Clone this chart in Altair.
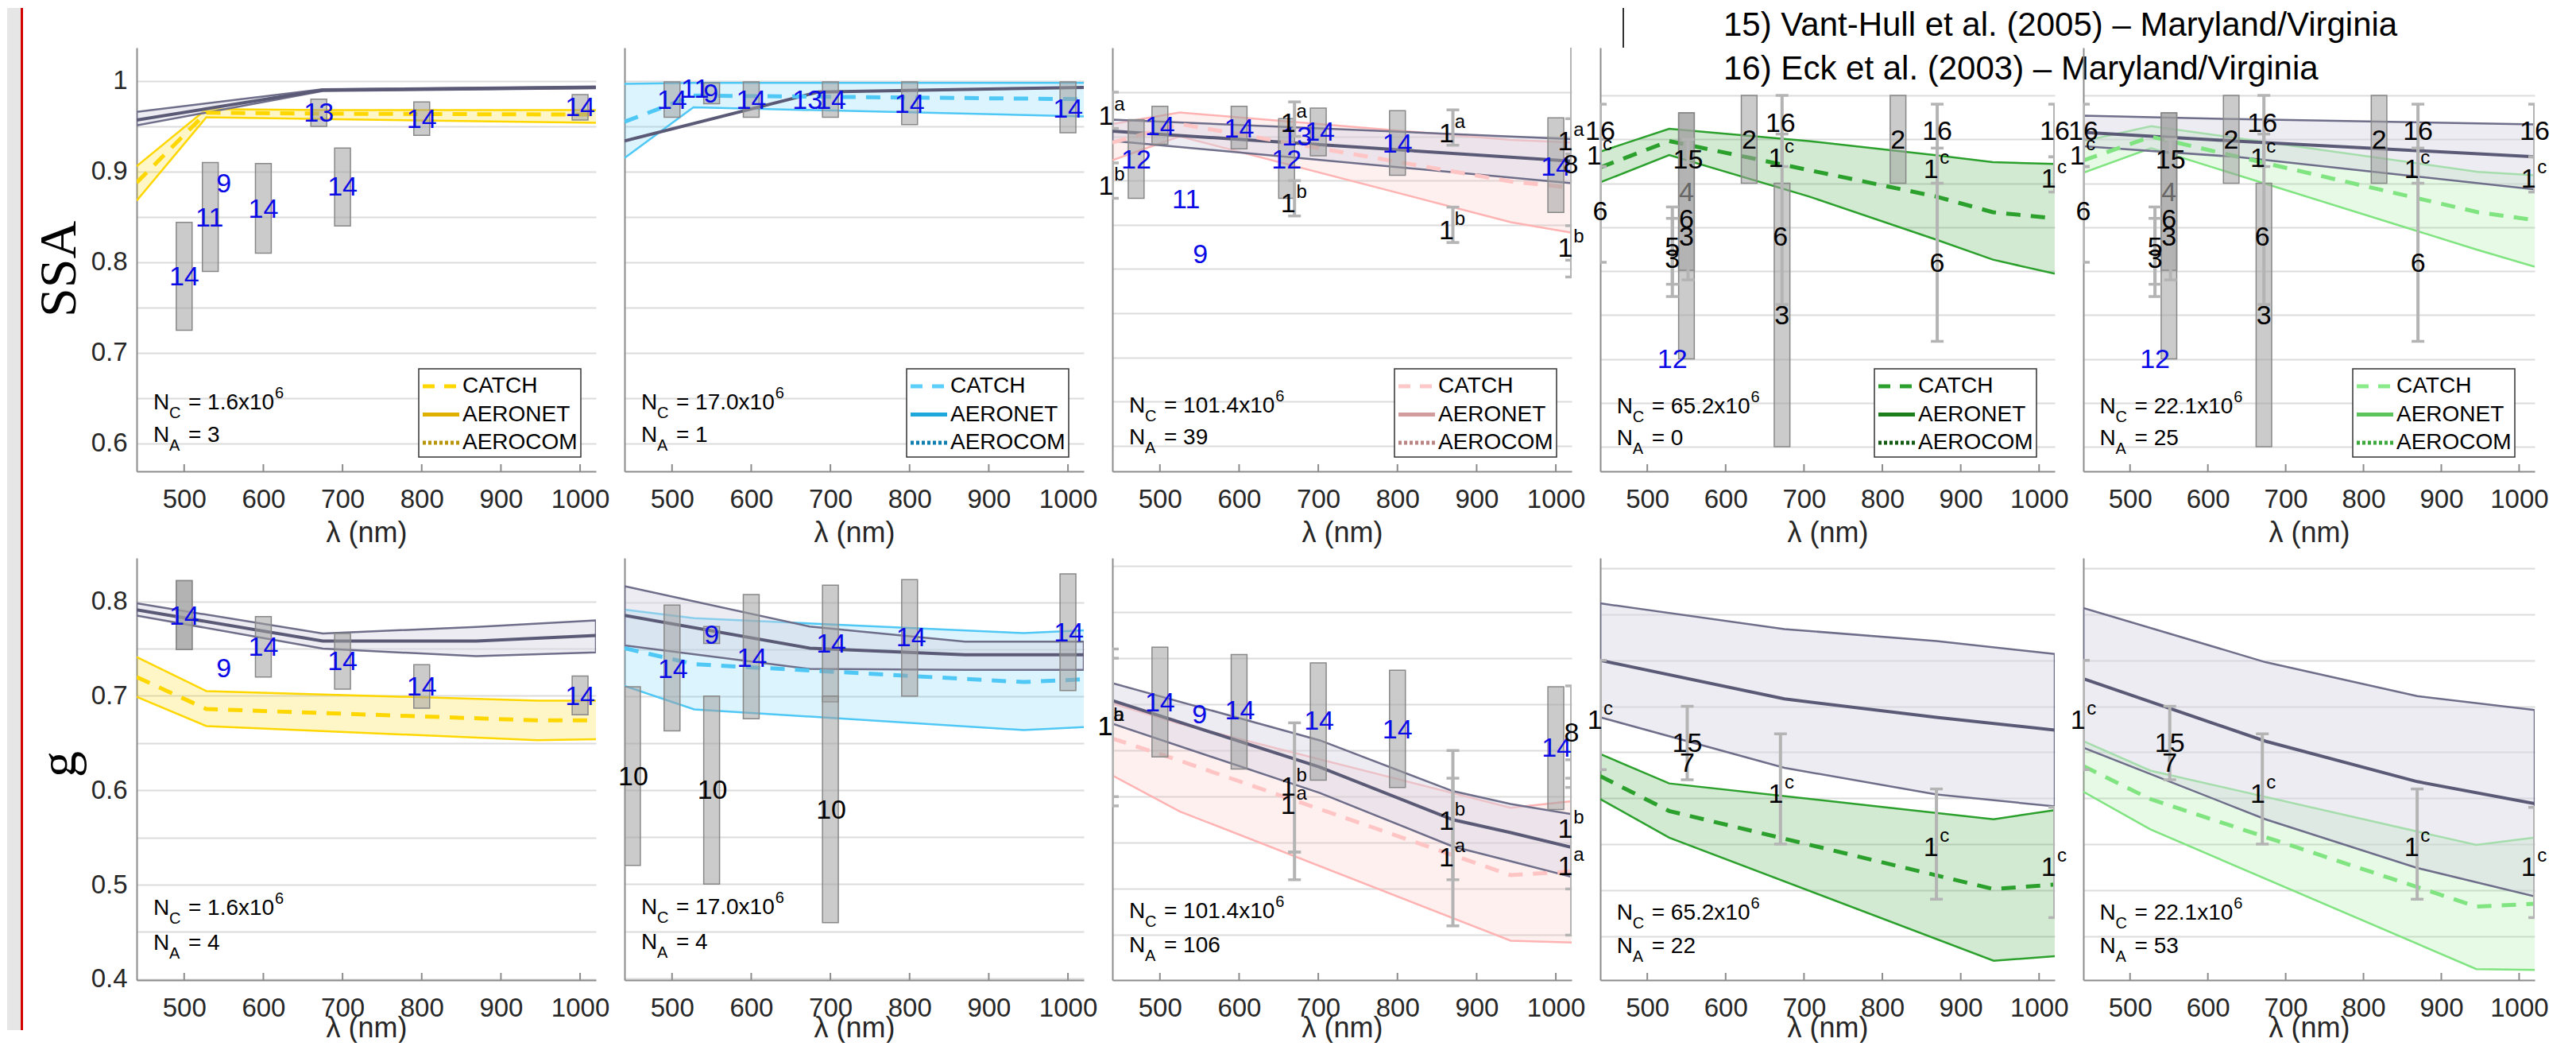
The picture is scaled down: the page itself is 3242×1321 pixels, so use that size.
import altair as alt
import pandas as pd

FONT = "Liberation Sans"
SERIF = "Liberation Serif"

# ---------------- layout / style ----------------
PANEL_W = [578, 578, 578, 572, 568]
ROW_H = [533, 531]
COL_GAP, ROW_GAP = 36, 109
X_DOMAIN = [440, 1020]
X_TICKS = [500, 600, 700, 800, 900, 1000]
Y_DOMAINS = [
    [[0.5693, 1.0368], [0.5693, 1.0368], [0.5712, 1.0503], [0.572, 1.0543], [0.572, 1.0543]],
    [[0.399, 0.846], [0.398, 0.847], [0.4013, 0.8586], [0.402, 0.8614], [0.402, 0.8614]],
]
GRID_VALUES = [
    [0.6, 0.65, 0.7, 0.75, 0.8, 0.85, 0.9, 0.95, 1.0],
    [0.4, 0.45, 0.5, 0.55, 0.6, 0.65, 0.7, 0.75, 0.8, 0.85],
]
Y_TITLES = ["SSA", "g"]
Y_TITLE_Y = [278, 259]
X_TITLE_Y = [77, 60]

AXIS_C = "#8c8c8c"
GRID_C = "#dcdcdc"
LABEL_C = "#262626"
SLATE_EDGE = "#6e6e8a"
SLATE_MID = "#5a5a76"
SLATE_FILL = "#d4d4e2"
BOX_FILL = "#a0a0a0"
BOX_EDGE = "#888888"
BAR_C = "#b4b4b4"
TXT_COLORS = {"b": "#0a0ae6", "k": "#000000", "g": "#666666"}

MAIN_COLORS = ["#FFD700", "#4FC8F5", "#FFB3B3", "#2CA02C", "#80E480"]
DASH_COLORS = ["#FFD700", "#4FC8F5", "#FFC4C4", "#2CA02C", "#80E480"]
FILL_OPACITY = [0.22, 0.2, 0.2, 0.22, 0.2]
MEAN_DASH = [18, 13]

LEGEND_NAMES = ["CATCH", "AERONET", "AEROCOM"]
LEGEND_DASH = [[15, 12], None, [4, 3]]
LEGEND_COLORS = [
    ["#FFD700", "#E0B000", "#B8960C"],
    ["#5BCEFA", "#1EA7DA", "#117FAF"],
    ["#FFC8C8", "#D29C9C", "#B98585"],
    ["#2CA02C", "#1C7F1C", "#145C14"],
    ["#88EA88", "#5CC45C", "#3DA93D"],
]
LEG_RIGHT = [19, 19, 19, 23, 25]

NC_TEXT = ["1.6", "17.0", "101.4", "65.2", "22.1"]
NA_TEXT = [["3", "1", "39", "0", "25"], ["4", "4", "106", "22", "53"]]
NC_Y = [0.645, 0.475]
NA_Y = [0.609, 0.438]
N_X = 461

TOP_NOTES = ["15) Vant-Hull et al. (2005) \u2013 Maryland/Virginia",
             "16) Eck et al. (2003) \u2013 Maryland/Virginia"]

# ---------------- SSA row data ----------------
SSA1_SLATE_X = [440, 675, 1020]
SSA1_SLATE_UP = [0.966, 0.991, 0.994]
SSA1_SLATE_MID = [0.957, 0.990, 0.993]
SSA1_SLATE_LO = [0.951, 0.989, 0.992]
SSA1_BAND_X = [440, 528, 675, 1020]
SSA1_BAND_UP = [0.906, 0.969, 0.968, 0.968]
SSA1_BAND_MEAN = [0.888, 0.965, 0.964, 0.963]
SSA1_BAND_LO = [0.868, 0.960, 0.958, 0.954]
SSA1_BOXES = [(500, 0.725, 0.844), (533, 0.790, 0.910), (600, 0.810, 0.909), (670, 0.950, 0.980),
              (700, 0.840, 0.926), (800, 0.940, 0.977), (1000, 0.957, 0.985)]
SSA1_BARS = []
SSA1_LABELS = [("14", "", 500, 0.783, "b"), ("11", "", 532, 0.848, "b"), ("9", "", 550, 0.886, "b"),
               ("14", "", 600, 0.858, "b"), ("13", "", 670, 0.964, "b"), ("14", "", 700, 0.882, "b"),
               ("14", "", 800, 0.957, "b"), ("14", "", 1000, 0.970, "b")]

SSA2_SLATE_X = [440, 685, 1020]
SSA2_SLATE_UP = [0.934, 0.988, 0.993]
SSA2_SLATE_MID = [0.934, 0.988, 0.993]
SSA2_SLATE_LO = [0.934, 0.988, 0.993]
SSA2_BAND_X = [440, 527, 1020]
SSA2_BAND_UP = [0.997, 0.998, 0.998]
SSA2_BAND_MEAN = [0.955, 0.984, 0.980]
SSA2_BAND_LO = [0.915, 0.971, 0.961]
SSA2_BOXES = [(500, 0.960, 0.999), (550, 0.975, 0.998), (600, 0.960, 0.999), (700, 0.960, 0.999),
              (800, 0.952, 0.999), (1000, 0.943, 0.999)]
SSA2_BARS = []
SSA2_LABELS = [("14", "", 500, 0.978, "b"), ("11", "", 529, 0.990, "b"), ("9", "", 549, 0.985, "b"),
               ("14", "", 600, 0.978, "b"), ("13", "", 671, 0.978, "b"), ("14", "", 701, 0.978, "b"),
               ("14", "", 800, 0.974, "b"), ("14", "", 1000, 0.968, "b")]

SSA3_SLATE_X = [440, 1020]
SSA3_SLATE_UP = [0.969, 0.947]
SSA3_SLATE_MID = [0.956, 0.922]
SSA3_SLATE_LO = [0.945, 0.897]
SSA3_BAND_X = [440, 525, 943, 1020]
SSA3_BAND_UP = [0.964, 0.977, 0.946, 0.943]
SSA3_BAND_MEAN = [0.943, 0.964, 0.899, 0.892]
SSA3_BAND_LO = [0.923, 0.950, 0.853, 0.841]
SSA3_BOXES = [(470, 0.880, 0.969), (500, 0.941, 0.984), (600, 0.936, 0.984), (660, 0.880, 0.970),
              (700, 0.928, 0.982), (800, 0.906, 0.979), (1000, 0.864, 0.971)]
SSA3_BARS = [(440, 0.959, 1.000), (440, 0.880, 0.920), (670, 0.950, 0.989), (670, 0.860, 0.900),
             (870, 0.940, 0.980), (870, 0.830, 0.870), (1020, 0.930, 0.970), (1020, 0.810, 0.849),
             (1020, 0.791, 1.080)]
SSA3_LABELS = [("12", "", 470, 0.923, "b"), ("14", "", 500, 0.960, "b"), ("11", "", 533, 0.878, "b"),
               ("9", "", 551, 0.816, "b"), ("14", "", 600, 0.958, "b"), ("12", "", 660, 0.923, "b"),
               ("13", "", 673, 0.949, "b"), ("14", "", 702, 0.954, "b"), ("14", "", 800, 0.941, "b"),
               ("14", "", 1000, 0.915, "b"), ("8", "", 1019, 0.917, "k"),
               ("1", "a", 432, 0.972, "k"), ("1", "b", 432, 0.893, "k"),
               ("1", "a", 662, 0.964, "k"), ("1", "b", 662, 0.873, "k"),
               ("1", "a", 862, 0.952, "k"), ("1", "b", 862, 0.843, "k"),
               ("1", "a", 1012, 0.943, "k"), ("1", "b", 1012, 0.823, "k")]

SSA4_BAND_X = [440, 528, 706, 868, 941, 1020]
SSA4_BAND_UP = [0.936, 0.962, 0.948, 0.932, 0.924, 0.922]
SSA4_BAND_MEAN = [0.918, 0.948, 0.915, 0.885, 0.867, 0.860]
SSA4_BAND_LO = [0.901, 0.932, 0.885, 0.836, 0.813, 0.797]

SSA5_SLATE_X = [440, 636, 1020]
SSA5_SLATE_UP = [0.977, 0.973, 0.967]
SSA5_SLATE_MID = [0.958, 0.948, 0.930]
SSA5_SLATE_LO = [0.942, 0.930, 0.893]
SSA5_BAND_X = [440, 527, 947, 1020]
SSA5_BAND_UP = [0.948, 0.965, 0.913, 0.909]
SSA5_BAND_MEAN = [0.926, 0.953, 0.867, 0.858]
SSA5_BAND_LO = [0.912, 0.940, 0.824, 0.805]

# Maryland/Virginia measurements (shared by the two right SSA panels)
MDVA_SSA_BOXES = [(550, 0.700, 0.980), (550, 0.801, 0.980), (630, 0.900, 1.000), (672, 0.600, 0.900),
                  (820, 0.900, 1.000)]
MDVA_SSA_BARS = [(440, 0.950, 0.990), (440, 0.919, 0.961), (440, 0.810, 0.919), (532, 0.771, 0.873),
                 (532, 0.785, 0.860), (552, 0.790, 0.950), (672, 0.762, 1.000), (672, 0.919, 0.956),
                 (870, 0.720, 0.990), (870, 0.900, 0.940), (1020, 0.890, 0.930), (1020, 0.930, 0.990)]
MDVA_SSA_LABELS = [("16", "", 440, 0.958, "k"), ("1", "c", 432, 0.930, "k"), ("6", "", 440, 0.867, "k"),
                   ("5", "", 532, 0.826, "k"), ("3", "", 532, 0.813, "k"), ("12", "", 532, 0.699, "b"),
                   ("15", "", 552, 0.926, "k"), ("4", "", 550, 0.889, "g"), ("6", "", 550, 0.858, "k"),
                   ("3", "", 550, 0.838, "k"), ("2", "", 630, 0.948, "k"), ("16", "", 670, 0.967, "k"),
                   ("1", "c", 664, 0.928, "k"), ("6", "", 670, 0.838, "k"), ("3", "", 672, 0.748, "k"),
                   ("2", "", 820, 0.948, "k"), ("16", "", 870, 0.958, "k"), ("1", "c", 862, 0.915, "k"),
                   ("6", "", 870, 0.808, "k"), ("16", "", 1020, 0.958, "k"), ("1", "c", 1012, 0.904, "k")]

# ---------------- g (asymmetry) row data ----------------
G1_SLATE_X = [440, 675, 869, 1020]
G1_SLATE_UP = [0.798, 0.766, 0.773, 0.780]
G1_SLATE_MID = [0.791, 0.758, 0.758, 0.764]
G1_SLATE_LO = [0.785, 0.750, 0.742, 0.746]
G1_BAND_X = [440, 528, 946, 1020]
G1_BAND_UP = [0.741, 0.705, 0.695, 0.695]
G1_BAND_MEAN = [0.720, 0.686, 0.674, 0.674]
G1_BAND_LO = [0.699, 0.668, 0.653, 0.654]
G1_BOXES = [(500, 0.749, 0.822), (500, 0.749, 0.822), (600, 0.720, 0.784), (700, 0.707, 0.766),
            (800, 0.687, 0.733), (1000, 0.680, 0.721)]
G1_BARS = []
G1_LABELS = [("14", "", 500, 0.784, "b"), ("9", "", 550, 0.728, "b"), ("14", "", 600, 0.751, "b"),
             ("14", "", 700, 0.736, "b"), ("14", "", 800, 0.709, "b"), ("14", "", 1000, 0.699, "b")]

G2_SLATE_X = [440, 674, 870, 1020]
G2_SLATE_UP = [0.817, 0.774, 0.758, 0.758]
G2_SLATE_MID = [0.786, 0.751, 0.744, 0.744]
G2_SLATE_LO = [0.754, 0.729, 0.728, 0.728]
G2_BAND_X = [440, 528, 944, 1020]
G2_BAND_UP = [0.792, 0.783, 0.767, 0.770]
G2_BAND_MEAN = [0.751, 0.734, 0.715, 0.718]
G2_BAND_LO = [0.711, 0.686, 0.664, 0.667]
G2_BOXES = [(450, 0.520, 0.710), (500, 0.663, 0.797), (550, 0.756, 0.774), (550, 0.500, 0.700),
            (600, 0.676, 0.808), (700, 0.694, 0.818), (700, 0.459, 0.700), (800, 0.700, 0.824),
            (1000, 0.706, 0.830)]
G2_BARS = []
G2_LABELS = [("10", "", 451, 0.614, "k"), ("10", "", 551, 0.599, "k"), ("10", "", 701, 0.578, "k"),
             ("14", "", 501, 0.728, "b"), ("9", "", 550, 0.764, "b"), ("14", "", 601, 0.740, "b"),
             ("14", "", 701, 0.755, "b"), ("14", "", 802, 0.762, "b"), ("14", "", 1001, 0.767, "b")]

G3_SLATE_X = [440, 702, 870, 943, 1020]
G3_SLATE_UP = [0.723, 0.661, 0.606, 0.592, 0.581]
G3_SLATE_MID = [0.704, 0.632, 0.575, 0.561, 0.545]
G3_SLATE_LO = [0.679, 0.604, 0.546, 0.530, 0.513]
G3_BAND_X = [440, 525, 943, 1020]
G3_BAND_UP = [0.701, 0.679, 0.588, 0.595]
G3_BAND_MEAN = [0.663, 0.639, 0.515, 0.519]
G3_BAND_LO = [0.623, 0.584, 0.444, 0.442]
G3_BOXES = [(500, 0.643, 0.762), (600, 0.630, 0.754), (700, 0.618, 0.745), (800, 0.610, 0.737),
            (1000, 0.586, 0.719)]
G3_BARS = [(440, 0.600, 0.760), (440, 0.590, 0.750), (670, 0.510, 0.680), (670, 0.540, 0.540),
           (870, 0.460, 0.650), (870, 0.510, 0.620), (1020, 0.450, 0.720), (1020, 0.500, 0.640),
           (1020, 0.610, 0.620)]
G3_LABELS = [("14", "", 500, 0.701, "b"), ("9", "", 550, 0.688, "b"), ("14", "", 601, 0.692, "b"),
             ("14", "", 701, 0.681, "b"), ("14", "", 800, 0.672, "b"), ("14", "", 1001, 0.652, "b"),
             ("8", "", 1020, 0.668, "k"), ("1", "b", 431, 0.675, "k"), ("1", "a", 431, 0.675, "k"),
             ("1", "b", 662, 0.610, "k"), ("1", "a", 662, 0.590, "k"),
             ("1", "b", 862, 0.573, "k"), ("1", "a", 862, 0.533, "k"),
             ("1", "b", 1012, 0.564, "k"), ("1", "a", 1012, 0.524, "k")]

G4_SLATE_X = [440, 675, 869, 1020]
G4_SLATE_UP = [0.812, 0.784, 0.771, 0.757]
G4_SLATE_MID = [0.750, 0.708, 0.688, 0.674]
G4_SLATE_LO = [0.688, 0.633, 0.604, 0.591]
G4_BAND_X = [440, 528, 942, 1020]
G4_BAND_UP = [0.648, 0.616, 0.577, 0.587]
G4_BAND_MEAN = [0.624, 0.586, 0.501, 0.506]
G4_BAND_LO = [0.599, 0.557, 0.423, 0.428]

G5_SLATE_X = [440, 674, 869, 1020]
G5_SLATE_UP = [0.807, 0.748, 0.711, 0.696]
G5_SLATE_MID = [0.730, 0.662, 0.618, 0.594]
G5_SLATE_LO = [0.655, 0.577, 0.524, 0.493]
G5_BAND_X = [440, 526, 945, 1020]
G5_BAND_UP = [0.662, 0.630, 0.549, 0.557]
G5_BAND_MEAN = [0.635, 0.599, 0.482, 0.485]
G5_BAND_LO = [0.607, 0.566, 0.414, 0.413]

MDVA_G_BARS = [(440, 0.631, 0.750), (551, 0.620, 0.700), (670, 0.550, 0.670), (869, 0.490, 0.610),
               (1020, 0.470, 0.590)]
MDVA_G_LABELS = [("1", "c", 433, 0.684, "k"), ("15", "", 551, 0.659, "k"), ("7", "", 551, 0.637, "k"),
                 ("1", "c", 664, 0.604, "k"), ("1", "c", 862, 0.546, "k"), ("1", "c", 1012, 0.524, "k")]

PANELS = [
    [
        dict(slate=(SSA1_SLATE_X, SSA1_SLATE_UP, SSA1_SLATE_MID, SSA1_SLATE_LO),
             band=(SSA1_BAND_X, SSA1_BAND_UP, SSA1_BAND_MEAN, SSA1_BAND_LO),
             boxes=SSA1_BOXES, bars=SSA1_BARS, labels=SSA1_LABELS),
        dict(slate=(SSA2_SLATE_X, SSA2_SLATE_UP, SSA2_SLATE_MID, SSA2_SLATE_LO),
             band=(SSA2_BAND_X, SSA2_BAND_UP, SSA2_BAND_MEAN, SSA2_BAND_LO),
             boxes=SSA2_BOXES, bars=SSA2_BARS, labels=SSA2_LABELS),
        dict(slate=(SSA3_SLATE_X, SSA3_SLATE_UP, SSA3_SLATE_MID, SSA3_SLATE_LO),
             band=(SSA3_BAND_X, SSA3_BAND_UP, SSA3_BAND_MEAN, SSA3_BAND_LO),
             boxes=SSA3_BOXES, bars=SSA3_BARS, labels=SSA3_LABELS),
        dict(slate=None,
             band=(SSA4_BAND_X, SSA4_BAND_UP, SSA4_BAND_MEAN, SSA4_BAND_LO),
             boxes=MDVA_SSA_BOXES, bars=MDVA_SSA_BARS, labels=MDVA_SSA_LABELS),
        dict(slate=(SSA5_SLATE_X, SSA5_SLATE_UP, SSA5_SLATE_MID, SSA5_SLATE_LO),
             band=(SSA5_BAND_X, SSA5_BAND_UP, SSA5_BAND_MEAN, SSA5_BAND_LO),
             boxes=MDVA_SSA_BOXES, bars=MDVA_SSA_BARS, labels=MDVA_SSA_LABELS),
    ],
    [
        dict(slate=(G1_SLATE_X, G1_SLATE_UP, G1_SLATE_MID, G1_SLATE_LO),
             band=(G1_BAND_X, G1_BAND_UP, G1_BAND_MEAN, G1_BAND_LO),
             boxes=G1_BOXES, bars=G1_BARS, labels=G1_LABELS),
        dict(slate=(G2_SLATE_X, G2_SLATE_UP, G2_SLATE_MID, G2_SLATE_LO),
             band=(G2_BAND_X, G2_BAND_UP, G2_BAND_MEAN, G2_BAND_LO),
             boxes=G2_BOXES, bars=G2_BARS, labels=G2_LABELS),
        dict(slate=(G3_SLATE_X, G3_SLATE_UP, G3_SLATE_MID, G3_SLATE_LO),
             band=(G3_BAND_X, G3_BAND_UP, G3_BAND_MEAN, G3_BAND_LO),
             boxes=G3_BOXES, bars=G3_BARS, labels=G3_LABELS),
        dict(slate=(G4_SLATE_X, G4_SLATE_UP, G4_SLATE_MID, G4_SLATE_LO),
             band=(G4_BAND_X, G4_BAND_UP, G4_BAND_MEAN, G4_BAND_LO),
             boxes=[], bars=MDVA_G_BARS, labels=MDVA_G_LABELS),
        dict(slate=(G5_SLATE_X, G5_SLATE_UP, G5_SLATE_MID, G5_SLATE_LO),
             band=(G5_BAND_X, G5_BAND_UP, G5_BAND_MEAN, G5_BAND_LO),
             boxes=[], bars=MDVA_G_BARS, labels=MDVA_G_LABELS),
    ],
]

CHAR_W = {"0": .556, "1": .556, "2": .556, "3": .556, "4": .556, "5": .556, "6": .556, "7": .556,
          "8": .556, "9": .556, ".": .278, "x": .5, "=": .584, " ": .278}


def text_w(s, size):
    return sum(CHAR_W.get(c, .556) for c in s) * size


LABEL_EXPR = ("abs(datum.value * 10 - round(datum.value * 10)) < 0.001 ? "
              "format(datum.value, '.1~f') : ''")


def build_panel(row, col):
    P = PANELS[row][col]
    w, h = PANEL_W[col], ROW_H[row]
    xsc = alt.Scale(domain=X_DOMAIN, nice=False, zero=False)
    ysc = alt.Scale(domain=Y_DOMAINS[row][col], nice=False, zero=False)
    xaxis = alt.Axis(values=X_TICKS, format="d", title="\u03bb (nm)", grid=False, ticks=False,
                     tickSize=0, domainColor=AXIS_C, domainWidth=2, labelFont=FONT,
                     labelFontSize=33, labelColor=LABEL_C, labelPadding=19, labelFlush=False,
                     labelOverlap=False, titleFont=FONT, titleFontSize=36,
                     titleFontWeight="normal", titleColor=LABEL_C,
                     titleY=X_TITLE_Y[row], titleBaseline="middle")
    if col == 0:
        yaxis = alt.Axis(values=GRID_VALUES[row], grid=True, gridColor=GRID_C, gridWidth=2,
                         ticks=False, tickSize=0, domainColor=AXIS_C, domainWidth=2,
                         labelFont=FONT, labelFontSize=33, labelColor=LABEL_C, labelPadding=12,
                         labelExpr=LABEL_EXPR, title=Y_TITLES[row], titleFont=SERIF,
                         titleFontSize=66, titleFontWeight="normal", titleColor="black",
                         titleAngle=270, titleX=-98, titleY=Y_TITLE_Y[row],
                         titleBaseline="middle", titleAlign="center")
    else:
        yaxis = alt.Axis(values=GRID_VALUES[row], grid=True, gridColor=GRID_C, gridWidth=2,
                         ticks=False, tickSize=0, domainColor=AXIS_C, domainWidth=2,
                         labels=False, title="")

    def X(f="x"):
        return alt.X(f"{f}:Q", scale=xsc, axis=xaxis)

    def Y(f):
        return alt.Y(f"{f}:Q", scale=ysc, axis=yaxis)

    layers = []
    bx, bup, bmean, blo = P["band"]
    band = pd.DataFrame({"x": bx, "up": bup, "mean": bmean, "lo": blo})
    layers.append(alt.Chart(band).mark_area(color=MAIN_COLORS[col], opacity=FILL_OPACITY[col],
                                            clip=True)
                  .encode(x=X(), y=Y("up"), y2="lo:Q"))
    edges = pd.concat([pd.DataFrame({"x": bx, "y": bup, "s": "up"}),
                       pd.DataFrame({"x": bx, "y": blo, "s": "lo"})])
    layers.append(alt.Chart(edges).mark_line(color=MAIN_COLORS[col], strokeWidth=2.5, clip=True)
                  .encode(x=X(), y=Y("y"), detail="s:N"))

    if P["slate"] is not None:
        sx, sup, smid, slo = P["slate"]
        sl = pd.DataFrame({"x": sx, "up": sup, "mid": smid, "lo": slo})
        layers.append(alt.Chart(sl).mark_area(fill=SLATE_FILL, fillOpacity=0.45, stroke=SLATE_EDGE,
                                              strokeWidth=2.5, clip=True)
                      .encode(x=X(), y=Y("up"), y2="lo:Q"))
        layers.append(alt.Chart(sl).mark_line(color=SLATE_MID, strokeWidth=4, clip=True)
                      .encode(x=X(), y=Y("mid")))

    layers.append(alt.Chart(band).mark_line(color=DASH_COLORS[col], strokeWidth=5,
                                            strokeDash=MEAN_DASH, clip=True)
                  .encode(x=X(), y=Y("mean")))

    if P["boxes"]:
        bxs = pd.DataFrame(P["boxes"], columns=["c", "lo", "hi"])
        bxs["x0"] = bxs["c"] - 10
        bxs["x1"] = bxs["c"] + 10
        layers.append(alt.Chart(bxs).mark_rect(fill=BOX_FILL, fillOpacity=0.55, stroke=BOX_EDGE,
                                               strokeWidth=1.5, clip=True)
                      .encode(x=X("x0"), x2="x1:Q", y=Y("lo"), y2="hi:Q"))

    if P["bars"]:
        bars = pd.DataFrame(P["bars"], columns=["x", "lo", "hi"])
        layers.append(alt.Chart(bars).mark_rule(color=BAR_C, strokeWidth=4, clip=True)
                      .encode(x=X(), y=Y("lo"), y2="hi:Q"))
        caps = pd.concat([pd.DataFrame({"x": bars["x"], "y": bars["lo"]}),
                          pd.DataFrame({"x": bars["x"], "y": bars["hi"]})])
        layers.append(alt.Chart(caps).mark_tick(color=BAR_C, orient="horizontal", size=16,
                                                thickness=3.5, opacity=1, clip=True)
                      .encode(x=X(), y=Y("y")))

    labs = pd.DataFrame(P["labels"], columns=["t", "sup", "x", "y", "c"])
    labs["col"] = labs["c"].map(TXT_COLORS)
    layers.append(alt.Chart(labs).mark_text(font=FONT, fontSize=34, align="center",
                                            baseline="middle")
                  .encode(x=X(), y=Y("y"), text="t:N", color=alt.Color("col:N", scale=None)))
    sups = labs[labs["sup"] != ""]
    if len(sups):
        layers.append(alt.Chart(sups).mark_text(font=FONT, fontSize=24, align="center",
                                                baseline="middle", dx=17, dy=-15)
                      .encode(x=X(), y=Y("y"), text="sup:N", color=alt.Color("col:N", scale=None)))

    # N_C / N_A annotations
    nc_rest = "= " + NC_TEXT[col] + "x10"
    na_rest = "= " + NA_TEXT[row][col]
    ann = pd.DataFrame({"x": [N_X, N_X], "y": [NC_Y[row], NA_Y[row]],
                        "n": ["N", "N"], "sub": ["C", "A"], "rest": [nc_rest, na_rest]})
    base_t = dict(font=FONT, align="left", baseline="middle", color="black")
    layers.append(alt.Chart(ann).mark_text(fontSize=28, **base_t)
                  .encode(x=X(), y=Y("y"), text="n:N"))
    layers.append(alt.Chart(ann).mark_text(fontSize=20, dx=20, dy=13, **base_t)
                  .encode(x=X(), y=Y("y"), text="sub:N"))
    layers.append(alt.Chart(ann).mark_text(fontSize=28, dx=44, **base_t)
                  .encode(x=X(), y=Y("y"), text="rest:N"))
    sup6 = pd.DataFrame({"x": [N_X], "y": [NC_Y[row]], "t": ["6"]})
    layers.append(alt.Chart(sup6).mark_text(fontSize=20, dx=45 + text_w(nc_rest, 28), dy=-12, **base_t)
                  .encode(x=X(), y=Y("y"), text="t:N"))

    # inward x ticks
    tk = pd.DataFrame({"x": X_TICKS})
    layers.append(alt.Chart(tk).mark_rule(color=AXIS_C, strokeWidth=2)
                  .encode(x=X(), y=alt.value(h - 9), y2=alt.value(h)))

    one = pd.DataFrame({"k": [0]})
    # legend (SSA row only)
    if row == 0:
        LW, LH = 204, 111
        bx0 = w - LEG_RIGHT[col] - LW
        by0 = h - 18 - LH
        layers.append(alt.Chart(one).mark_rect(fill="white", stroke="#333333", strokeWidth=1.5)
                      .encode(x=alt.value(bx0), x2=alt.value(bx0 + LW),
                              y=alt.value(by0), y2=alt.value(by0 + LH)))
        for i, name in enumerate(LEGEND_NAMES):
            yy = by0 + 22 + i * 35.5
            mk = dict(color=LEGEND_COLORS[col][i], strokeWidth=5)
            if LEGEND_DASH[i]:
                mk["strokeDash"] = LEGEND_DASH[i]
            layers.append(alt.Chart(one).mark_rule(**mk)
                          .encode(x=alt.value(bx0 + 5), x2=alt.value(bx0 + 51), y=alt.value(yy)))
            layers.append(alt.Chart(one).mark_text(font=FONT, fontSize=28, align="left",
                                                   baseline="middle", color="black", text=name)
                          .encode(x=alt.value(bx0 + 55), y=alt.value(yy)))

    # page decorations
    if row == 0 and col == 0:
        layers.append(alt.Chart(one).mark_rect(fill="#e6e6e6")
                      .encode(x=alt.value(-163), x2=alt.value(-146),
                              y=alt.value(-50), y2=alt.value(1236)))
        layers.append(alt.Chart(one).mark_rect(fill="#d40000")
                      .encode(x=alt.value(-146), x2=alt.value(-143),
                              y=alt.value(-50), y2=alt.value(1236)))
    if row == 0 and col == 3:
        layers.append(alt.Chart(one).mark_rule(color="#333333", strokeWidth=2)
                      .encode(x=alt.value(29), y=alt.value(-50), y2=alt.value(0)))
        for i, note in enumerate(TOP_NOTES):
            layers.append(alt.Chart(one).mark_text(font=FONT, fontSize=42, align="left",
                                                   baseline="middle", color="black", text=note)
                          .encode(x=alt.value(155), y=alt.value(-28 + 55 * i)))

    return alt.layer(*layers).properties(width=w, height=h)


panels = [build_panel(r, c) for r in range(2) for c in range(5)]

chart = alt.concat(*panels, columns=5, spacing={"row": ROW_GAP, "column": COL_GAP},
                   bounds="flush", align="each").properties(
    padding={"left": 0, "top": 0, "right": 4, "bottom": 0}
).configure(font=FONT).configure_view(stroke="transparent")

chart.save("out.html", embed_options={"renderer": "svg", "actions": False})
